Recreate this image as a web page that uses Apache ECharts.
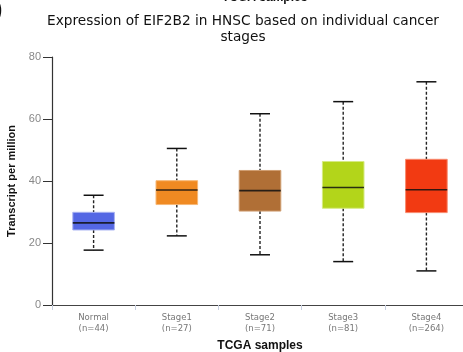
<!DOCTYPE html>
<html>
<head>
<meta charset="utf-8">
<script src="https://cdn.jsdelivr.net/npm/echarts@6/dist/echarts.min.js"></script>
<style>
  html, body { margin: 0; padding: 0; background: #fff; }
  #chart { width: 463px; height: 352px; }
</style>
</head>
<body>
<div id="chart"></div>
<script>
// Sample groups and their sizes
const groups = ['Normal', 'Stage1', 'Stage2', 'Stage3', 'Stage4'];
const counts = [44, 27, 71, 81, 264];

// Box statistics per group: [lower whisker, Q1, median, Q3, upper whisker]
const lowerWhisker = [17.7, 22.3, 16.2, 14.0, 11.0];
const q1 = [24.2, 32.4, 30.3, 31.2, 29.8];
const median = [26.5, 37.1, 36.9, 37.9, 37.2];
const q3 = [29.9, 40.1, 43.4, 46.3, 47.0];
const upperWhisker = [35.4, 50.5, 61.7, 65.6, 72.0];

// Fill and outline colours of each box
const fills = ['#5467e4', '#f08a22', '#b06f36', '#b3d51a', '#f23a12'];
const outlines = ['#a9b3f2', '#f6b877', '#cf9d70', '#d6ea82', '#f88a6e'];

// Y axis ticks
const yTicks = [0, 20, 40, 60, 80];

const boxData = groups.map((g, i) => [i, lowerWhisker[i], q1[i], median[i], q3[i], upperWhisker[i]]);

const chart = echarts.init(document.getElementById('chart'));

function renderBox(params, api) {
  const idx = api.value(0);
  const pLow = api.coord([idx, api.value(1)]);
  const pQ1 = api.coord([idx, api.value(2)]);
  const pMed = api.coord([idx, api.value(3)]);
  const pQ3 = api.coord([idx, api.value(4)]);
  const pHigh = api.coord([idx, api.value(5)]);
  const band = api.size([1, 0])[0];
  const cx = pMed[0];
  const boxW = band * 0.5;
  const capW = band * 0.24;
  const i = params.dataIndex;
  return {
    type: 'group',
    children: [
      {
        type: 'line',
        shape: { x1: cx, y1: pHigh[1], x2: cx, y2: pQ3[1] },
        style: { stroke: '#222', lineWidth: 1.4, lineDash: [3, 2] }
      },
      {
        type: 'line',
        shape: { x1: cx, y1: pQ1[1], x2: cx, y2: pLow[1] },
        style: { stroke: '#222', lineWidth: 1.4, lineDash: [3, 2] }
      },
      {
        type: 'line',
        shape: { x1: cx - capW / 2, y1: pHigh[1], x2: cx + capW / 2, y2: pHigh[1] },
        style: { stroke: '#111', lineWidth: 1.5 }
      },
      {
        type: 'line',
        shape: { x1: cx - capW / 2, y1: pLow[1], x2: cx + capW / 2, y2: pLow[1] },
        style: { stroke: '#111', lineWidth: 1.5 }
      },
      {
        type: 'rect',
        shape: { x: cx - boxW / 2, y: pQ3[1], width: boxW, height: pQ1[1] - pQ3[1] },
        style: { fill: fills[i], stroke: outlines[i], lineWidth: 1 }
      },
      {
        type: 'line',
        shape: { x1: cx - boxW / 2, y1: pMed[1], x2: cx + boxW / 2, y2: pMed[1] },
        style: { stroke: '#111', lineWidth: 1.6, opacity: 0.85 }
      }
    ]
  };
}

chart.setOption({
  animation: false,
  backgroundColor: '#fff',
  title: {
    text: 'Expression of EIF2B2 in HNSC based on individual cancer\nstages',
    left: 238,
    top: 8,
    textAlign: 'center',
    textStyle: {
      fontFamily: 'DejaVu Sans',
      fontWeight: 'normal',
      fontSize: 13.7,
      lineHeight: 16,
      color: '#111'
    }
  },
  graphic: [
    {
      type: 'text',
      left: 222,
      top: -8,
      style: { text: 'TCGA samples', font: 'bold 12px "Liberation Sans", Arial, sans-serif', fill: '#111' }
    },
    {
      type: 'text',
      left: -5,
      top: -1,
      style: { text: ')', font: 'bold 22px "Liberation Sans", Arial, sans-serif', fill: '#111' }
    }
  ],
  grid: { left: 52, right: -5, top: 57, bottom: 47, outerBoundsMode: 'none', containLabel: false },
  xAxis: {
    type: 'category',
    data: groups,
    name: 'TCGA samples',
    nameLocation: 'middle',
    nameGap: 31,
    nameTextStyle: {
      fontFamily: 'Liberation Sans',
      fontWeight: 'bold',
      fontSize: 12,
      color: '#111'
    },
    axisLine: { lineStyle: { color: '#444', width: 1.2 } },
    axisTick: { show: true, length: 5, lineStyle: { color: '#c8d0e0' } },
    axisLabel: {
      fontFamily: 'DejaVu Sans',
      fontSize: 8.5,
      lineHeight: 11.5,
      color: '#777',
      margin: 7,
      formatter: (v, i) => v + '\n(n=' + counts[i] + ')'
    }
  },
  yAxis: {
    type: 'value',
    min: yTicks[0],
    max: yTicks[yTicks.length - 1],
    interval: 20,
    name: 'Transcript per million',
    nameLocation: 'middle',
    nameGap: 32,
    nameTextStyle: {
      fontFamily: 'Liberation Sans',
      fontWeight: 'bold',
      fontSize: 11,
      color: '#111'
    },
    splitLine: { show: false },
    axisLine: { show: true, lineStyle: { color: '#333', width: 1.2 } },
    axisTick: { show: true, length: 9, lineStyle: { color: '#333' } },
    axisLabel: {
      fontFamily: 'Liberation Sans',
      fontSize: 11,
      color: '#888',
      margin: 11
    }
  },
  series: [
    {
      type: 'custom',
      renderItem: renderBox,
      encode: { x: 0, y: [1, 2, 3, 4, 5] },
      data: boxData
    }
  ]
});
</script>
</body>
</html>
